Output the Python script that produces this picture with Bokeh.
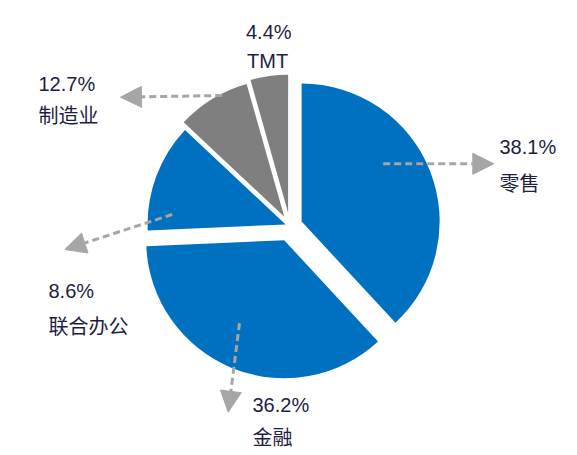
import math

from bokeh.plotting import figure
from bokeh.models import ColumnDataSource, Range1d, Arrow, NormalHead
from bokeh.core.properties import value
from bokeh.embed import file_html
from bokeh.resources import INLINE

# ------------------------------------------------
# Datos (en el orden de las porciones, en sentido horario desde arriba)
# ------------------------------------------------
sectores = ["零售", "金融", "联合办公", "制造业", "TMT"]
valores = [38.1, 36.2, 12.7, 8.6, 4.4]
etiquetas_pct = ["38.1%", "36.2%", "8.6%", "12.7%", "4.4%"]
etiquetas_nombre = ["零售", "金融", "联合办公", "制造业", "TMT"]

# ------------------------------------------------
# Estilo y disposicion
# ------------------------------------------------
AZUL = "#0070C0"
GRIS = "#7F7F7F"
GRIS_FLECHA = "#A6A6A6"
TEXTO = "#1D1D3F"
colores = [AZUL, AZUL, AZUL, GRIS, GRIS]

W, H = 575, 453


def sx(x):
    # coordenada de pantalla -> datos
    return x


def sy(y):
    return H - y


centro = (289.5, 225.6)
radio = 138
separacion = [12.5, 15.3, 4.7, 11.0, 13.4]

# posiciones de las etiquetas (izquierda, linea base)
pos_pct = [(499, 146.7), (252, 404.3), (48, 290.7), (38, 83.3), (245.5, 31.7)]
pos_nombre = [(499, 183), (252, 437.5), (48, 326.5), (38, 115.5), (246.5, 60)]

# flechas: inicio y punta
flechas = [
    ((382.7, 163.3), (493.3, 163.3)),
    ((239, 322.7), (227.7, 411.7)),
    ((171.7, 214), (64.3, 249)),
    ((221.7, 95), (120, 96.7)),
]

# ------------------------------------------------
# Geometria de las porciones
# ------------------------------------------------
total = sum(valores)
xs, ys, ini, fin = [], [], [], []
acum = 0.0
for v, e in zip(valores, separacion):
    t1 = 360 * acum / total
    acum += v
    t2 = 360 * acum / total
    tm = math.radians((t1 + t2) / 2)
    xs.append(sx(centro[0]) + e * math.sin(tm))
    ys.append(sy(centro[1]) + e * math.cos(tm))
    ini.append(math.radians(90 - t1))
    fin.append(math.radians(90 - t2))

fuente = ColumnDataSource(data={
    'sector': sectores,
    'valor': valores,
    'x': xs,
    'y': ys,
    'ini': ini,
    'fin': fin,
    'color': colores,
})

p = figure(
    width=W,
    height=H,
    x_range=Range1d(0, W),
    y_range=Range1d(0, H),
    x_axis_location=None,
    y_axis_location=None,
    output_backend="svg",
    toolbar_location=None,
    min_border=0,
)
p.grid.visible = False
p.outline_line_color = None
p.background_fill_color = "white"

p.wedge(
    x='x', y='y', radius=radio,
    start_angle='ini', end_angle='fin', direction='clock',
    fill_color='color', line_color=None,
    source=fuente,
)

# flechas punteadas
for (a, b) in flechas:
    p.add_layout(Arrow(
        end=NormalHead(size=21, fill_color=GRIS_FLECHA,
                       line_color=GRIS_FLECHA, line_width=1),
        x_start=sx(a[0]), y_start=sy(a[1]),
        x_end=sx(b[0]), y_end=sy(b[1]),
        line_color=GRIS_FLECHA, line_width=3, line_dash="7 4",
    ))

# etiquetas
fuente_pct = ColumnDataSource(data={
    'x': [sx(q[0]) for q in pos_pct],
    'y': [sy(q[1]) for q in pos_pct],
    'txt': etiquetas_pct,
})
p.text('x', 'y', text='txt', source=fuente_pct,
       text_font=value("Liberation Sans"), text_font_size="20px",
       text_color=TEXTO, text_align="left", text_baseline="alphabetic")

fuente_nombre = ColumnDataSource(data={
    'x': [sx(q[0]) for q in pos_nombre],
    'y': [sy(q[1]) for q in pos_nombre],
    'txt': etiquetas_nombre,
})
p.text('x', 'y', text='txt', source=fuente_nombre,
       text_font=value("Liberation Sans, Noto Sans CJK SC"), text_font_size="20px",
       text_color=TEXTO, text_align="left", text_baseline="alphabetic")

open("out.html", "w").write(file_html(p, INLINE))
